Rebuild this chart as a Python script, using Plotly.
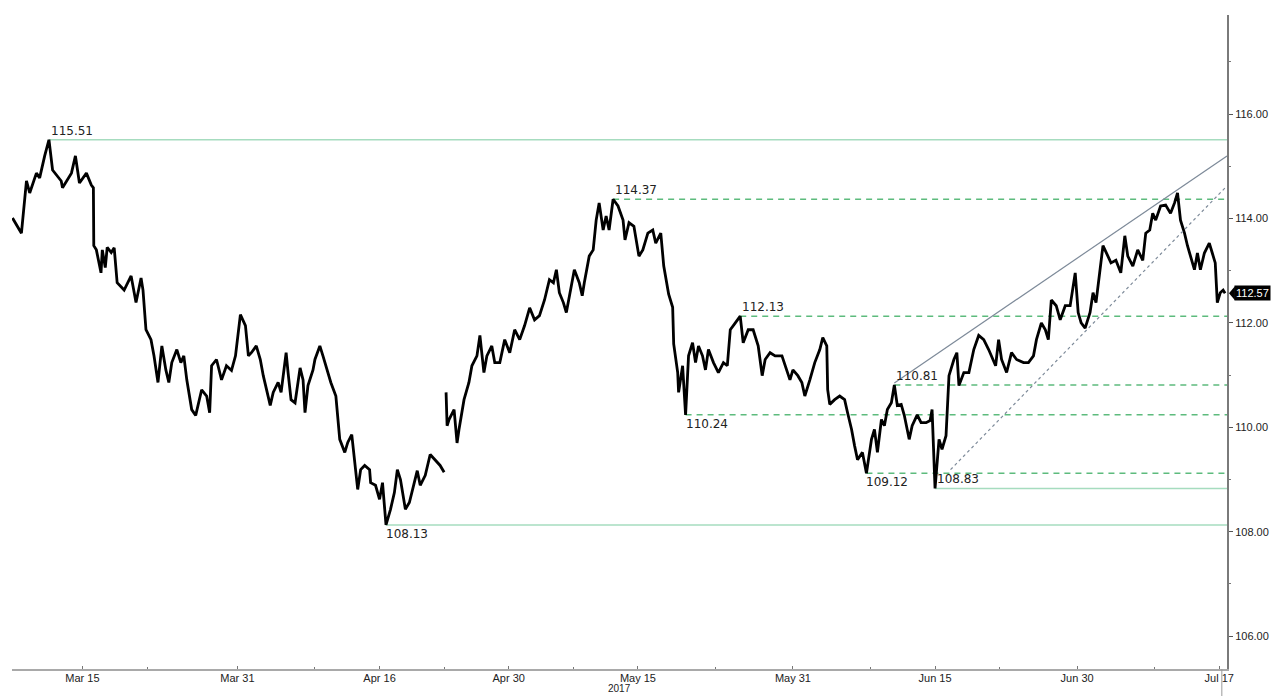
import plotly.graph_objects as go

# ---- price path (trading days since 2017-03-15, USDJPY) ----
t_days = [-5.41, -4.72, -4.33, -4.08, -3.56, -3.31, -2.92, -2.59, -2.31, -1.64, -1.54, -0.85, -0.54, -0.23,
          0.31, 0.69, 0.85, 0.88, 1.08, 1.44, 1.54, 1.77, 1.92, 2.23, 2.46, 2.69, 3.23, 3.77, 4.15, 4.54,
          4.69, 4.92, 5.31, 5.54, 5.85, 6.15, 6.46, 6.69, 6.92, 7.31, 7.62, 7.85, 8.08, 8.46, 8.77, 9.23,
          9.62, 9.85, 10.0, 10.38, 10.77, 11.15, 11.54, 11.85, 12.23, 12.62, 12.85, 13.08, 13.46, 13.77,
          14.0, 14.54, 14.77, 15.15, 15.38, 15.77, 15.92, 16.15, 16.46, 16.85, 17.08, 17.23, 17.46, 17.85,
          18.0, 18.38, 18.62, 18.85, 19.23, 19.62, 19.92, 20.31, 20.54, 20.85, 21.08, 21.31, 21.54, 21.85,
          22.23, 22.31, 22.69, 23.0, 23.23, 23.38, 23.5, 23.85, 24.15, 24.38, 24.62, 25.0, 25.31, 25.69,
          25.92, 26.15, 26.54, 26.92, 27.31, 27.69, 28.0, 28.07,
          28.15, 28.23, 28.38, 28.62, 28.77, 29.0, 29.15, 29.54, 29.92, 30.15, 30.54, 30.77, 31.08, 31.31,
          31.69, 31.92, 32.31, 32.69, 33.08, 33.46, 33.85, 34.23, 34.62, 35.0, 35.38, 35.77, 36.15, 36.46,
          36.69, 36.92, 37.23, 37.46, 37.85, 38.08, 38.46, 38.69, 38.85, 39.23, 39.54, 39.77, 40.0, 40.31,
          40.54, 40.77, 41.08, 41.46, 41.85, 42.0, 42.31, 42.69, 43.08, 43.38, 43.77, 44.15, 44.38, 44.77,
          45.0, 45.38, 45.69, 45.77, 46.08, 46.15, 46.46, 46.69, 46.92, 47.23, 47.46, 47.69, 48.0, 48.23,
          48.46, 48.85, 49.23, 49.62, 49.92, 50.15, 50.54, 50.92, 51.15, 51.54, 51.92, 52.31, 52.62, 52.85,
          53.23, 53.62, 54.15, 54.54, 54.77, 55.0, 55.38, 55.69, 55.92, 56.31, 56.69, 57.08, 57.31, 57.62,
          57.69, 57.85, 58.23, 58.62, 59.0, 59.23, 59.54, 59.77, 60.0, 60.38, 60.69, 61.08, 61.31, 61.54,
          61.85, 62.08, 62.31, 62.62, 62.85, 63.08, 63.38, 63.62, 64.0, 64.23, 64.62, 64.92, 65.31, 65.62,
          65.77, 66.0, 66.31, 66.54, 66.85, 67.08, 67.46, 67.69, 67.85, 68.23, 68.62, 69.0, 69.38, 69.77,
          70.15, 70.69, 70.92, 71.15, 71.54, 71.92, 72.31, 72.85, 73.23, 73.62, 73.85, 74.23, 74.54, 74.77,
          75.0, 75.38, 75.69, 76.08, 76.46, 76.85, 77.08, 77.31, 77.62, 78.0, 78.23, 78.46, 78.77, 79.0,
          79.38, 79.62, 80.0, 80.38, 80.69, 80.92, 81.31, 81.69, 82.08, 82.31, 82.62, 82.85, 83.08, 83.46,
          83.85, 84.23, 84.54, 84.77, 85.0, 85.31, 85.54, 85.77, 86.08, 86.31, 86.54, 86.85, 87.23, 87.46,
          87.69, 87.85, 88.08, 88.3, 88.45]
price = [114.01, 113.72, 114.72, 114.49, 114.87, 114.78, 115.2, 115.51, 114.93, 114.72, 114.59, 114.87, 115.2, 114.68,
         114.87, 114.64, 114.59, 113.48, 113.4, 112.96, 113.4, 113.06, 113.45, 113.35, 113.44, 112.77, 112.63, 112.9, 112.39, 112.86,
         112.63, 111.87, 111.68, 111.37, 110.86, 111.56, 111.1, 110.86, 111.24, 111.49, 111.24, 111.37, 110.91, 110.34, 110.23, 110.72,
         110.6, 110.28, 111.18, 111.3, 110.91, 111.18, 111.09, 111.37, 112.16, 111.95, 111.37, 111.43, 111.56, 111.3,
         110.99, 110.42, 110.67, 110.86, 110.67, 111.43, 111.05, 110.53, 110.47, 111.14, 110.91, 110.28, 110.8, 111.1,
         111.3, 111.56, 111.37, 111.18, 110.86, 110.6, 109.77, 109.52, 109.71, 109.86, 109.27, 108.81, 109.19, 109.27,
         109.19, 108.94, 108.89, 108.62, 108.94, 108.37, 108.13, 108.43, 108.75, 109.19, 109.0, 108.43, 108.56, 108.94,
         109.17, 108.89, 109.08, 109.48, 109.38, 109.27, 109.14, None,
         110.67, 110.03, 110.15, 110.28, 110.34, 109.7, 109.96, 110.53, 110.86, 111.18, 111.37, 111.76, 111.05, 111.37,
         111.56, 111.24, 111.24, 111.68, 111.43, 111.87, 111.68, 111.95, 112.29, 112.06, 112.14, 112.44, 112.83, 112.77,
         113.02, 112.58, 112.39, 112.2, 112.77, 113.02, 112.77, 112.52, 112.77, 113.28, 113.4, 113.97, 114.3, 113.78,
         114.05, 113.78, 114.37, 114.24, 113.97, 113.59, 113.92, 113.85, 113.28, 113.4, 113.72, 113.78, 113.53, 113.72,
         113.09, 112.55, 112.3, 111.6, 111.05, 110.67, 111.18, 110.24, 111.37, 111.62, 111.24, 111.56, 111.37, 111.1,
         111.49, 111.24, 111.05, 111.24, 111.18, 111.87, 112.0, 112.13, 111.62, 111.87, 111.87, 111.56, 110.99, 111.3,
         111.43, 111.37, 111.37, 111.1, 110.91, 111.1, 110.99, 110.86, 110.6, 110.91, 111.24, 111.49, 111.72, 111.56,
         110.72, 110.44, 110.53, 110.6, 110.53, 110.28, 109.96, 109.65, 109.38, 109.52, 109.12, 109.77, 109.96, 109.52,
         110.15, 110.03, 110.34, 110.47, 110.81, 110.42, 110.44, 110.23, 109.77, 110.03, 110.24, 110.09, 110.09, 110.13,
         110.34, 108.83, 109.77, 109.58, 109.84, 110.99, 111.3, 111.43, 110.8, 111.05, 111.05, 111.49, 111.76, 111.68,
         111.49, 111.18, 111.68, 111.3, 111.05, 111.43, 111.3, 111.24, 111.24, 111.37, 111.68, 112.0, 111.87, 111.68,
         112.44, 112.33, 112.06, 112.33, 112.33, 112.96, 112.2, 112.0, 111.9, 112.2, 112.58, 112.39, 112.96, 113.48,
         113.28, 113.15, 113.2, 112.96, 113.67, 113.28, 113.09, 113.4, 113.2, 113.72, 113.78, 114.1, 113.97, 114.24,
         114.26, 114.1, 114.3, 114.49, 113.97, 113.72, 113.48, 113.28, 113.02, 113.34, 113.02, 113.34, 113.53, 113.34,
         113.15, 112.39, 112.58, 112.63, 112.57]
last_price = 112.57
last_t = 88.2

# ---- support / resistance levels ----
level_values = [115.51, 114.37, 112.13, 110.81, 110.24, 109.12, 108.83, 108.13]
level_start_t = [-2.59, 41.08, 50.92, 62.85, 46.69, 60.69, 66.0, 23.5]
level_dashed = [False, True, True, True, True, True, False, False]
level_label_pos = ["above", "above", "above", "above", "below", "below", "above", "below"]

# ---- trend channel ----
trend_upper_t = [62.85, 88.6]
trend_upper_v = [110.85, 115.2]
trend_lower_t = [67.2, 88.5]
trend_lower_v = [109.19, 114.6]

# ---- axes ----
x_range = [-5.45, 88.6]
y_range = [105.37, 117.90]
x_tickvals = [0, 12, 23, 33, 43, 55, 66, 77, 88]
x_ticktext = ["Mar 15", "Mar 31", "Apr 16", "Apr 30", "May 15", "May 31", "Jun 15", "Jun 30", "Jul 17"]
x_minor = [5, 18, 28, 38, 49, 61, 71, 83]
y_tickvals = [106, 108, 110, 112, 114, 116]
y_ticktext = ["106.00", "108.00", "110.00", "112.00", "114.00", "116.00"]
y_minor = [105, 107, 109, 111, 113, 115, 117]
year_label = "2017"
year_label_t = 41.6

SOLID_GREEN = "#a6dcbf"
DASH_GREEN = "#5dbb7d"
TREND_GRAY = "#7d8a99"
FONT = "DejaVu Sans"
AXIS_FONT = "Liberation Sans"

fig = go.Figure()
fig.add_trace(go.Scatter(x=t_days, y=price, mode="lines",
                         line=dict(color="#000000", width=2.8),
                         connectgaps=False, hoverinfo="skip", showlegend=False))

shapes = []
annotations = []
for v, t0, dashed, pos in zip(level_values, level_start_t, level_dashed, level_label_pos):
    shapes.append(dict(type="line", xref="x", yref="y", x0=t0, x1=x_range[1], y0=v, y1=v,
                       line=dict(color=DASH_GREEN if dashed else SOLID_GREEN, width=1.5,
                                 dash="6px,5px" if dashed else "solid"), layer="below"))
    annotations.append(dict(x=t0, y=v, xref="x", yref="y", text=f"{v:.2f}", showarrow=False,
                            xanchor="left", yanchor="bottom" if pos == "above" else "top",
                            xshift=-2 if pos != "above" else 0,
                            font=dict(family=FONT, size=12, color="#222222")))

shapes.append(dict(type="line", xref="x", yref="y", x0=trend_upper_t[0], x1=trend_upper_t[1],
                   y0=trend_upper_v[0], y1=trend_upper_v[1], line=dict(color=TREND_GRAY, width=1.2)))
shapes.append(dict(type="line", xref="x", yref="y", x0=trend_lower_t[0], x1=trend_lower_t[1],
                   y0=trend_lower_v[0], y1=trend_lower_v[1],
                   line=dict(color=TREND_GRAY, width=1.2, dash="3px,3px")))

# current time marker below axis
shapes.append(dict(type="line", xref="x", yref="paper", x0=last_t, x1=last_t, y0=0, y1=-0.045,
                   line=dict(color="#9a9a9a", width=1)))

# last price tag with arrow
px = 1.0 / 1226
py = 1.0 / 52.3
shapes.append(dict(type="path", xref="paper", yref="y",
                   path=f"M {1 + 2*px} {last_price} L {1 + 8*px} {last_price + 7*py} L {1 + 8*px} {last_price - 7*py} Z",
                   fillcolor="#000000", line=dict(width=0)))
annotations.append(dict(x=1, y=last_price, xref="paper", yref="y", text=f"{last_price:.2f}",
                        showarrow=False, xanchor="left", yanchor="middle", xshift=7,
                        bgcolor="#000000", borderpad=1,
                        font=dict(family=AXIS_FONT, size=11, color="#ffffff")))

annotations.append(dict(x=year_label_t, y=-26 / 655, xref="x", yref="paper", text=year_label, showarrow=False,
                        xanchor="center", yanchor="bottom", yshift=-1,
                        font=dict(family=AXIS_FONT, size=10, color="#222222")))

fig.update_layout(
    width=1281, height=696,
    margin=dict(l=12, r=43, t=15, b=26),
    paper_bgcolor="white", plot_bgcolor="white",
    shapes=shapes, annotations=annotations,
    showlegend=False,
    xaxis=dict(range=x_range, tickmode="array", tickvals=x_tickvals, ticktext=x_ticktext,
               showgrid=False, zeroline=False, showline=True, linecolor="#a9a9a9", linewidth=2,
               ticks="inside", ticklen=3, tickcolor="#777777", ticklabelstandoff=-2,
               tickfont=dict(family=AXIS_FONT, size=11, color="#222222"),
               minor=dict(tickmode="array", tickvals=x_minor, ticks="inside", ticklen=2, tickcolor="#777777")),
    yaxis=dict(range=y_range, side="right", tickmode="array", tickvals=y_tickvals, ticktext=y_ticktext,
               showgrid=False, zeroline=False, showline=True, linecolor="#7a7a7a", linewidth=2,
               ticks="outside", ticklen=4, tickcolor="#555555",
               tickfont=dict(family=AXIS_FONT, size=11, color="#222222"),
               minor=dict(tickmode="array", tickvals=y_minor, ticks="outside", ticklen=2, tickcolor="#777777")),
)

fig.write_html("out.html", config={"displayModeBar": False},
               post_script="document.body.style.margin='0px';document.body.style.overflow='hidden';")
